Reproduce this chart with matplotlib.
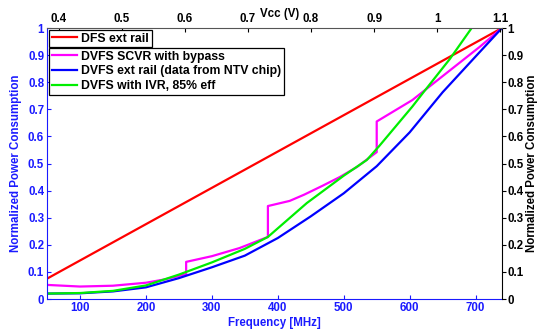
import matplotlib
matplotlib.use("Agg")
import matplotlib.pyplot as plt

plt.rcParams['font.family'] = ['Liberation Sans', 'DejaVu Sans']
plt.rcParams['font.weight'] = 'bold'

# ---- data ----
freq_dfs = [50, 740]
p_dfs = [0.075, 1.0]

freq_scvr = [50, 100, 150, 200, 230, 261, 261, 300, 342, 385, 385, 418, 440, 468, 494, 520, 550,
             550, 604, 656, 706, 740]
p_scvr = [0.052, 0.046, 0.049, 0.060, 0.073, 0.092, 0.137, 0.158, 0.188, 0.229, 0.343, 0.362, 0.385,
          0.418, 0.450, 0.487, 0.542, 0.655, 0.734, 0.834, 0.930, 1.0]

freq_ext = [50, 100, 150, 200, 250, 300, 350, 400, 450, 500, 550, 600, 650, 700, 740]
p_ext = [0.020, 0.021, 0.028, 0.043, 0.077, 0.117, 0.160, 0.225, 0.305, 0.390, 0.490, 0.615, 0.763, 0.895, 1.0]

freq_ivr = [50, 100, 150, 200, 250, 300, 350, 385, 444, 500, 535, 554, 604, 620, 661, 694, 705]
p_ivr = [0.020, 0.022, 0.030, 0.050, 0.090, 0.135, 0.185, 0.229, 0.354, 0.455, 0.513, 0.565, 0.710, 0.760,
         0.886, 1.0, 1.04]

labels = ['DFS ext rail', 'DVFS SCVR with bypass', 'DVFS ext rail (data from NTV chip)', 'DVFS with IVR, 85% eff']
colors = ['#ff0000', '#ff00ff', '#0000ff', '#00ee00']

freq_ticks = [100, 200, 300, 400, 500, 600, 700]
vcc_ticks = [0.4, 0.5, 0.6, 0.7, 0.8, 0.9, 1.0, 1.1]
vcc_ticklabels = ['0.4', '0.5', '0.6', '0.7', '0.8', '0.9', '1', '1.1']
y_ticks = [0, 0.1, 0.2, 0.3, 0.4, 0.5, 0.6, 0.7, 0.8, 0.9, 1.0]
y_ticklabels = ['0', '0.1', '0.2', '0.3', '0.4', '0.5', '0.6', '0.7', '0.8', '0.9', '1']

# ---- figure ----
fig = plt.figure(figsize=(5.4, 3.3), dpi=100)
ax = fig.add_axes([47/540, 31/330, 455/540, 271/330])
blue = '#1a1aff'
fs = 8.3

lw = 1.6
l1, = ax.plot(freq_dfs, p_dfs, color=colors[0], lw=lw)
l2, = ax.plot(freq_scvr, p_scvr, color=colors[1], lw=lw)
l3, = ax.plot(freq_ext, p_ext, color=colors[2], lw=lw)
l4, = ax.plot(freq_ivr, p_ivr, color=colors[3], lw=lw)

ax.set_xlim(50, 740)
ax.set_ylim(0, 1)
ax.set_xticks(freq_ticks)
ax.set_yticks(y_ticks)
ax.set_yticklabels(y_ticklabels)
ax.tick_params(axis='both', direction='in', length=3, colors=blue, labelsize=fs, width=0.8, pad=2)
for lab in ax.get_xticklabels() + ax.get_yticklabels():
    lab.set_fontweight('bold')
ax.spines['left'].set_color(blue)
ax.spines['bottom'].set_color(blue)
ax.spines['right'].set_visible(False)
ax.spines['top'].set_visible(False)
ax.set_xlabel('Frequency [MHz]', color=blue, fontsize=fs, fontweight='bold', labelpad=2)
ax.set_ylabel('Normalized Power Consumption', color=blue, fontsize=fs, fontweight='bold', labelpad=4)

# right axis
axr = ax.twinx()
axr.set_ylim(0, 1)
axr.set_yticks(y_ticks)
axr.set_yticklabels(y_ticklabels)
axr.tick_params(axis='y', direction='out', length=3, colors='black', labelsize=fs, width=0.8, pad=1)
for lab in axr.get_yticklabels():
    lab.set_fontweight('bold')
for s in ['left', 'bottom', 'top']:
    axr.spines[s].set_visible(False)
axr.spines['right'].set_color('black')
axr.set_ylabel('Normalized Power Consumption', color='black', fontsize=fs, fontweight='bold',
               rotation=90, labelpad=1.5)

# top axis
axt = ax.twiny()
axt.set_xlim(0.381, 1.103)
axt.set_xticks(vcc_ticks)
axt.set_xticklabels(vcc_ticklabels)
axt.tick_params(axis='x', direction='in', length=3, colors='black', labelsize=fs, width=0.8, pad=2)
for lab in axt.get_xticklabels():
    lab.set_fontweight('bold')
for s in ['left', 'bottom', 'right']:
    axt.spines[s].set_visible(False)
axt.spines['top'].set_color('#555555')
axt.set_xlabel('Vcc (V)', fontsize=fs, fontweight='bold')
axt.xaxis.set_label_coords(0.512, 1.04)

# legends
leg_kw = dict(loc='upper left', fancybox=False, framealpha=1, edgecolor='black',
              handlelength=2.1, handletextpad=0.35, borderpad=0.22, borderaxespad=0,
              labelspacing=0.22, prop={'weight': 'bold', 'size': 8.8})
leg1 = axt.legend([l1], [labels[0]], bbox_to_anchor=(0.004, 0.993), **leg_kw)
leg1.get_frame().set_linewidth(0.9)
axt.add_artist(leg1)
leg2 = axt.legend([l2, l3, l4], labels[1:], bbox_to_anchor=(0.004, 0.926), **leg_kw)
leg2.get_frame().set_linewidth(0.9)

fig.savefig('out.png', dpi=100)
